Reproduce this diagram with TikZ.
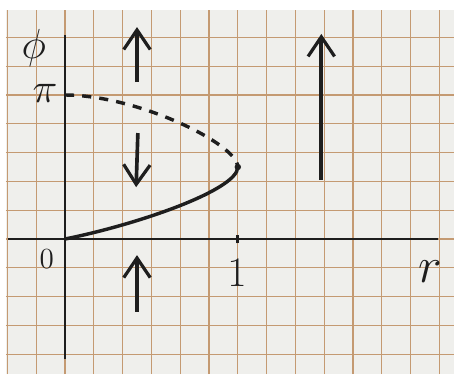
\documentclass[tikz,border=0pt]{standalone}
\usetikzlibrary{arrows.meta}
\definecolor{ink}{HTML}{1E1E1E}
\definecolor{gridline}{HTML}{C49A72}
\definecolor{paper}{HTML}{EFEFEC}

\begin{document}
\begin{tikzpicture}[x=0.5cm, y=0.5cm,
  axis/.style={line width=1.4pt, ink},
  curve/.style={line width=1.7pt, ink, line cap=round},
  arr/.style={-{Straight Barb[length=3.4mm, width=4.6mm, line width=1.6pt]}, line width=1.8pt, ink},
  lbl/.style={font=\fontsize{20}{24}\selectfont, text=ink, inner sep=0pt}
]
  % squared paper
  \useasboundingbox[fill=white] (-2.257,-4.688) rectangle (13.507,8.299);
  \fill[paper] (-2.05,-4.688) rectangle (13.507,7.95);
  \draw[gridline, line width=0.6pt, step=0.5cm] (-2.05,-4.688) grid (13.507,7.95);

  % axes
  \coordinate (xl) at (-1.98,0);
  \coordinate (xr) at (12.95,0);
  \coordinate (yb) at (0,-4.17);
  \coordinate (yt) at (0,7.1);
  \draw[axis] (xl) -- (xr);
  \draw[axis] (yb) -- (yt);
  \draw[axis] (6,-0.15) -- (6,0.15);

  % branches
  \coordinate (O) at (0,0);
  \coordinate (fold) at (6,2.5);
  \coordinate (top) at (0,5);
  \draw[curve] (O) .. controls (2.5,0.5) and (6,1.7) .. (fold);
  \draw[curve, dash pattern=on 4.5pt off 4pt, line cap=butt] (top) .. controls (2.5,5) and (6,3.3) .. (fold);
  \fill[ink] (fold) circle (1.6pt);

  % flow arrows
  \coordinate (a1s) at (2.5,5.45);
  \coordinate (a1e) at (2.5,7.36);
  \coordinate (a2s) at (2.53,3.68);
  \coordinate (a2e) at (2.47,1.8);
  \coordinate (a3s) at (2.5,-2.53);
  \coordinate (a3e) at (2.5,-0.56);
  \coordinate (a4s) at (8.9,2.05);
  \coordinate (a4e) at (8.9,7.12);
  \draw[arr] (a1s) -- (a1e);
  \draw[arr] (a2s) -- (a2e);
  \draw[arr] (a3s) -- (a3e);
  \draw[arr] (a4s) -- (a4e);

  % labels
  \node[lbl] (phi) at (-1.08,6.63) {$\phi$};
  \node[lbl] (pilbl) at (-0.69,5.07) {$\pi$};
  \node[lbl, font=\fontsize{14}{16}\selectfont] (zero) at (-0.63,-0.69) {$0$};
  \node[lbl] (one) at (5.97,-1.18) {$1$};
  \node[lbl, font=\fontsize{26}{30}\selectfont] (rlbl) at (12.67,-1.15) {$r$};
\end{tikzpicture}
\end{document}
